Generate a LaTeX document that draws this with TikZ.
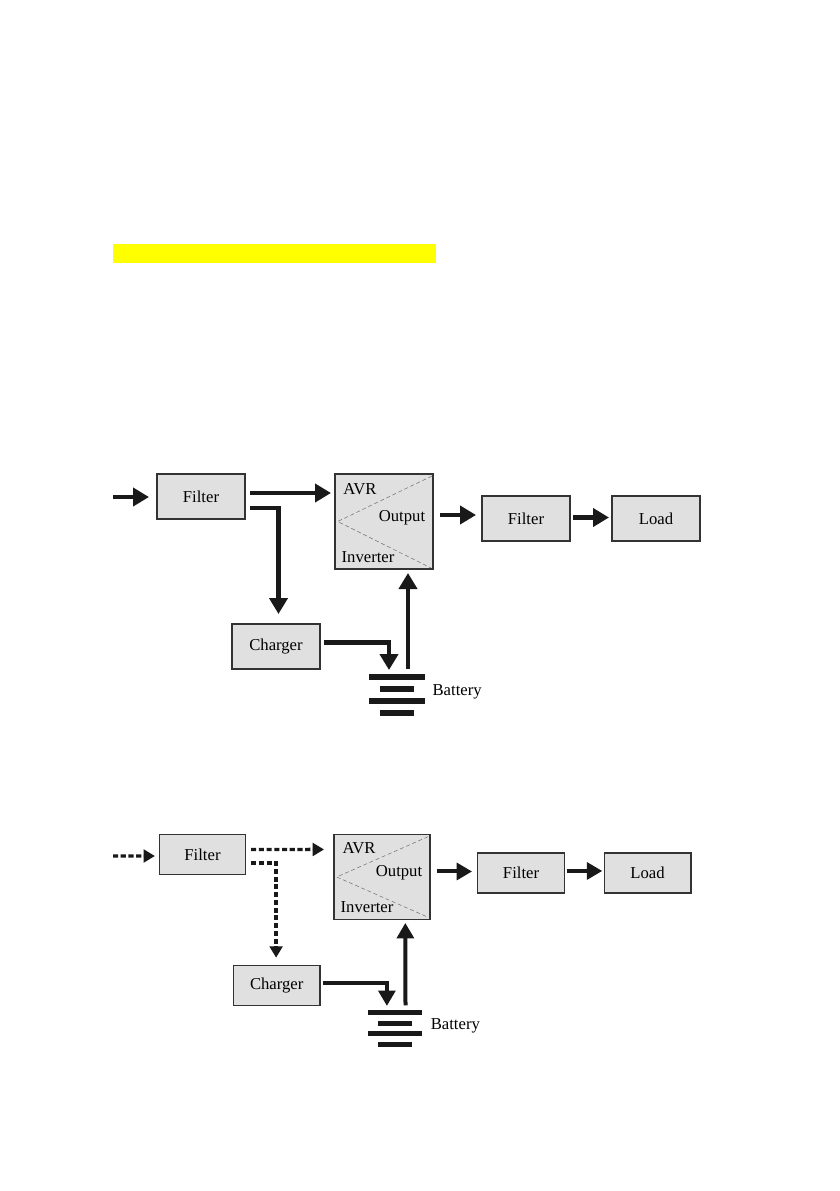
\documentclass[tikz,border=0pt]{standalone}
\usepackage{fontspec}
\setmainfont{Liberation Serif}
\usetikzlibrary{arrows.meta,positioning}
\definecolor{markyellow}{RGB}{255,255,0}

\begin{document}
\begin{tikzpicture}[
    x=0.75pt, y=-0.75pt,
    box/.style={draw=black!80, fill=black!12, rectangle, line width=1pt, outer sep=0pt,
                align=center, font=\fontsize{12.5}{15}\selectfont},
    smallbox/.style={box, minimum width=66pt, minimum height=33.75pt},
    smallboxb/.style={box, minimum width=64.9pt, minimum height=30pt},
    inlabel/.style={inner sep=0pt, font=\fontsize{12.5}{15}\selectfont},
    split/.style={black!55, densely dashed, line width=0.4pt},
    bar/.style={fill=black!90, rectangle, inner sep=0pt, outer sep=0pt},
    arrow/.style={-{Triangle[length=12pt, width=13.5pt]}, line width=3.3pt, black!90},
    arrowb/.style={-{Triangle[length=11.5pt, width=12.5pt]}, line width=3pt, black!90},
    dasharrow/.style={-{Triangle[length=8.5pt, width=9.5pt]}, line width=2.6pt, black!90,
                      dash pattern=on 3.8pt off 2pt}
]
\useasboundingbox (0,0) rectangle (839,1191);
\node[fill=markyellow, minimum width=242.25pt, minimum height=14.25pt, inner sep=0pt] (mark) at (274.5,253.5) {};

% upper diagram
\coordinate (ina) at (113,497);
\node[smallbox] (filtera) at (201,496.5) {Filter};
\node[box, minimum width=73.5pt, minimum height=71.25pt, right=67.5pt of filtera.north east, anchor=north west] (maina) {};
\node[smallbox, right=36.75pt of maina, yshift=2.25pt] (filterb) {Filter};
\node[smallbox, right=31.5pt of filterb] (loada) {Load};
\node[smallbox, below right=78.75pt and 56.25pt of filtera.south west, anchor=north west] (chargera) {Charger};
\node[bar, minimum width=42pt, minimum height=4.5pt, right=36.75pt of chargera, yshift=-22.9pt] (bata) {};
\node[bar, minimum width=26pt, minimum height=4.5pt, below=4.5pt of bata] (batb) {};
\node[bar, minimum width=42pt, minimum height=4.5pt, below=4.5pt of batb] (batc) {};
\node[bar, minimum width=26pt, minimum height=4.5pt, below=4.5pt of batc] (batd) {};
\node[inlabel, right=13.5pt of batb, anchor=west, yshift=-2pt] (batlabela) {Battery};

\node[inlabel] (avra) at ([shift={(-24,-32.5)}]maina.center) {AVR};
\node[inlabel] (outa) at ([shift={(18,-3.5)}]maina.center) {Output};
\node[inlabel] (inva) at ([shift={(-16,35.5)}]maina.center) {Inverter};
\draw[split] ([shift={(-1,2)}]maina.north east) -- ([xshift=2]maina.west) -- ([shift={(-2,-1)}]maina.south east);

\draw[arrow] (ina) -- ([shift={(-8,0.5)}]filtera.west);
\draw[arrow] ([shift={(5,-3.5)}]filtera.east) -- ([shift={(-4,-28.5)}]maina.west);
\draw[arrow] ([shift={(5,11.5)}]filtera.east) -| ([shift={(2.5,-10)}]chargera.north);
\draw[arrow] ([shift={(7,-6.5)}]maina.east) -- ([shift={(-6,-3.5)}]filterb.west);
\draw[arrow] ([shift={(3,-1)}]filterb.east) -- ([shift={(-3,-1)}]loada.west);
\draw[arrow] ([shift={(4,-4)}]chargera.east) -| ([shift={(-8,-4)}]bata.north);
\draw[arrow] ([shift={(11,-5)}]bata.north) -- ([shift={(24,4)}]maina.south);

% lower diagram
\coordinate (inc) at (113,856);
\node[smallboxb] (filterc) at (202.5,854.7) {Filter};
\node[box, minimum width=72pt, minimum height=63.4pt, right=66.2pt of filterc.north east, anchor=north west] (mainc) {};
\node[smallboxb, right=35.8pt of mainc, yshift=3pt] (filterd) {Filter};
\node[smallboxb, right=30pt of filterd] (loadc) {Load};
\node[smallboxb, below right=68.25pt and 55.65pt of filterc.south west, anchor=north west] (chargerc) {Charger};
\node[bar, minimum width=41pt, minimum height=3.75pt, right=35.7pt of chargerc, yshift=-20.2pt] (bate) {};
\node[bar, minimum width=25.5pt, minimum height=3.75pt, below=4.1pt of bate] (batf) {};
\node[bar, minimum width=41pt, minimum height=3.75pt, below=4.1pt of batf] (batg) {};
\node[bar, minimum width=25.5pt, minimum height=3.75pt, below=4.1pt of batg] (bath) {};
\node[inlabel, right=14pt of batf, anchor=west, yshift=-2.2pt] (batlabelc) {Battery};

\node[inlabel] (avrc) at ([shift={(-23,-29)}]mainc.center) {AVR};
\node[inlabel] (outc) at ([shift={(17,-4)}]mainc.center) {Output};
\node[inlabel] (invc) at ([shift={(-15,30)}]mainc.center) {Inverter};
\draw[split] ([shift={(-2,2)}]mainc.north east) -- ([xshift=2]mainc.west) -- ([shift={(-2,-2)}]mainc.south east);

\draw[dasharrow] (inc) -- ([shift={(-4.3,1.3)}]filterc.west);
\draw[dasharrow] ([shift={(5.3,-5.2)}]filterc.east) -- ([shift={(-10,-27.5)}]mainc.west);
\draw[dasharrow] ([shift={(5.3,8.3)}]filterc.east) -| ([shift={(-0.6,-8)}]chargerc.north);
\draw[arrowb] ([shift={(7,-5.5)}]mainc.east) -- ([shift={(-5.7,-1.5)}]filterd.west);
\draw[arrowb] ([shift={(2.5,-2)}]filterd.east) -- ([shift={(-2,-2)}]loadc.west);
\draw[arrowb] ([shift={(3.3,-3)}]chargerc.east) -| ([shift={(-8,-4.2)}]bate.north);
\draw[arrowb] ([shift={(10.6,-4.7)}]bate.north) -- ([shift={(23.3,3.7)}]mainc.south);
\end{tikzpicture}
\end{document}
